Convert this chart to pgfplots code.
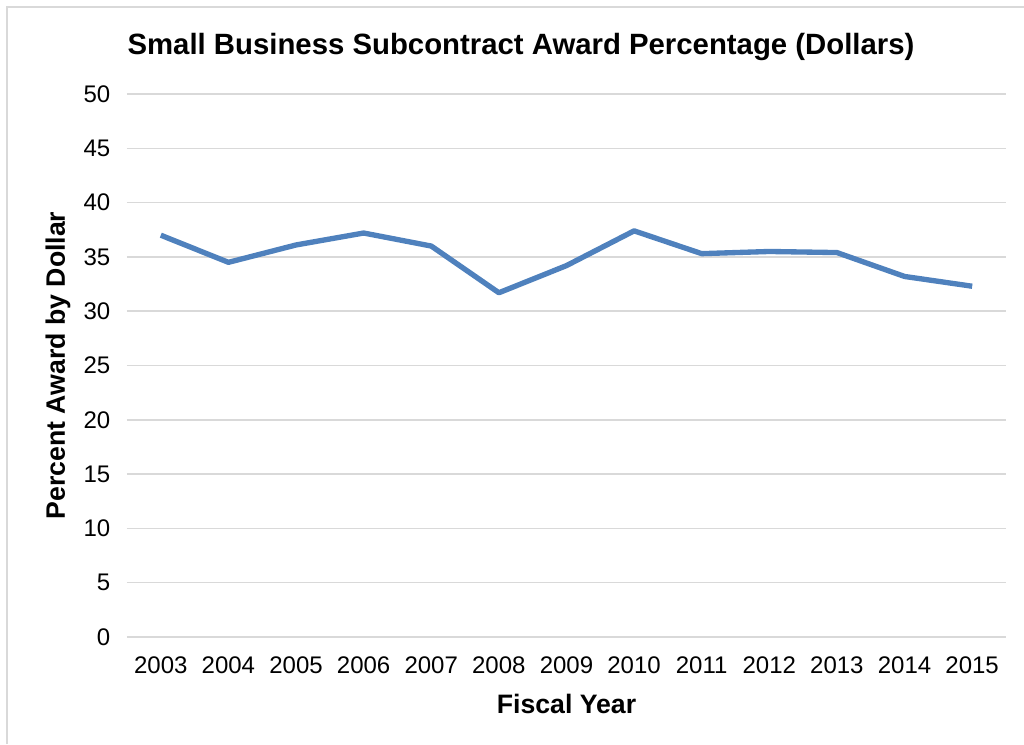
\documentclass[border=0pt]{standalone}
\usepackage{pgfplots}
\pgfplotsset{compat=1.18}
\usepackage{fontspec}
\setmainfont{Liberation Sans}
\definecolor{lineblue}{RGB}{79,129,189}
\definecolor{gridgray}{RGB}{217,217,217}
\begin{document}
\begin{tikzpicture}[x=0.75pt,y=-0.75pt]
% picture frame, 1024 x 744 px, origin top left
\path[use as bounding box] (0,0) rectangle (1024,744);
\draw[gridgray, line width=1.2pt] (7,744) -- (7,7) -- (1024,7);
\node[font=\bfseries\fontsize{22}{26}\selectfont] at (521,47) {Small Business Subcontract Award Percentage (Dollars)};
\begin{axis}[
    at={(95.25pt,-477.75pt)}, anchor=south west,
    scale only axis,
    width=659.25pt, height=407.25pt,
    xmin=2002.5, xmax=2015.5,
    ymin=0, ymax=50,
    xtick={2003,2004,...,2015},
    ytick={0,5,...,50},
    /pgf/number format/.cd, 1000 sep={}, assume math mode=true,
    /pgfplots/.cd,
    axis line style={draw=none},
    major tick length=0pt,
    ymajorgrids=true,
    grid style={gridgray, line width=1.1pt},
    ticklabel style={font=\fontsize{18}{21}\selectfont},
    yticklabel style={xshift=-9pt},
    xticklabel style={yshift=-11.5pt},
    xlabel={\bfseries Fiscal Year},
    ylabel={\bfseries Percent Award by Dollar},
    label style={font=\bfseries\fontsize{20}{23}\selectfont},
    xlabel style={yshift=-8pt},
    ylabel style={yshift=3pt},
]
\addplot[color=lineblue, line width=4pt, line join=round] coordinates {
    (2003,37.0)(2004,34.5)(2005,36.1)(2006,37.2)(2007,36.0)
    (2008,31.7)(2009,34.2)(2010,37.4)(2011,35.3)(2012,35.5)
    (2013,35.4)(2014,33.2)(2015,32.3)
};
\end{axis}
\end{tikzpicture}
\end{document}
